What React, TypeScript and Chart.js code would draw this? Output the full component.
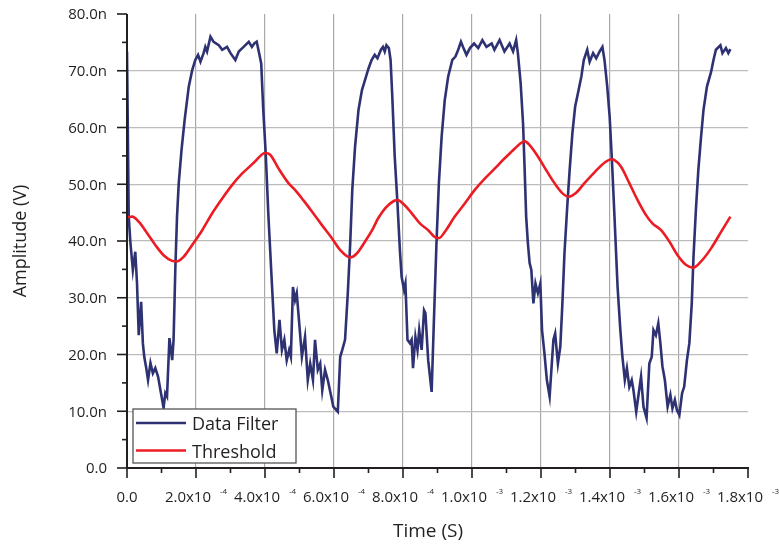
import { useEffect, useRef } from 'react';
import { Chart, registerables } from 'chart.js';

Chart.register(...registerables);

const FONT = "'Open Sans', 'DejaVu Sans', sans-serif";
const TEXT_COLOR = '#231f20';
const FILTER_COLOR = '#2e3272';
const THRESHOLD_COLOR = '#ec1c24';

// Filtered signal: time (µs) and amplitude (nV)
const filterTimeUs = [
  0, 5, 10, 17, 24, 29, 34, 41, 46, 50, 55, 61, 68, 75, 82, 90, 97, 106, 111, 116,
  123, 131, 135, 140, 145, 150, 158, 167, 179, 189, 198, 206, 213, 222, 227, 232, 242, 251, 266, 276,
  290, 300, 314, 324, 338, 353, 362, 369, 376, 383, 389, 395, 402, 410, 420, 427, 434, 442, 449, 456,
  463, 470, 475, 481, 487, 492, 500, 507, 516, 524, 531, 539, 545, 553, 560, 566, 574, 582, 592, 598,
  611, 618, 624, 632, 640, 647, 653, 661, 671, 681, 690, 700, 709, 718, 726, 736, 742, 747, 752, 759,
  764, 769, 776, 784, 791, 796, 803, 807, 813, 820, 825, 829, 836, 842, 847, 854, 861, 865, 873, 883,
  889, 897, 904, 912, 921, 931, 943, 952, 960, 968, 974, 984, 994, 1006, 1018, 1030, 1042, 1057, 1065, 1080,
  1094, 1109, 1119, 1128, 1133, 1141, 1148, 1152, 1157, 1162, 1167, 1172, 1178, 1184, 1191, 1198, 1203, 1210, 1217, 1225,
  1232, 1236, 1241, 1249, 1256, 1262, 1268, 1276, 1283, 1291, 1299, 1309, 1317, 1324, 1334, 1341, 1351, 1360, 1370, 1378,
  1384, 1392, 1399, 1406, 1413, 1422, 1430, 1436, 1443, 1449, 1456, 1463, 1468, 1476, 1482, 1490, 1497, 1506, 1514, 1521,
  1526, 1533, 1540, 1546, 1552, 1559, 1567, 1575, 1581, 1588, 1594, 1601, 1609, 1615, 1623, 1630, 1637, 1642, 1649, 1656,
  1664, 1671, 1681, 1693, 1700, 1707, 1720, 1726, 1736, 1743, 1749,
];
const filterNanoVolts = [
  73.4, 44.3, 39.6, 34.9, 38.1, 32.6, 23.4, 29.3, 22.0, 19.6, 17.9, 15.5, 18.5, 16.7, 17.6, 16.1, 13.7, 10.6, 13.2, 12.6,
  22.9, 19.0, 22.6, 34.9, 44.3, 50.2, 56.0, 61.3, 67.2, 70.1, 71.9, 72.8, 71.6, 73.1, 74.2, 73.4, 76.0, 75.1, 74.5, 73.7,
  74.2, 73.1, 71.9, 73.4, 74.2, 75.1, 74.2, 74.8, 75.1, 73.1, 71.3, 63.1, 55.5, 44.3, 32.5, 24.3, 20.2, 26.1, 20.8, 22.6,
  19.0, 20.8, 19.6, 31.9, 29.6, 30.8, 24.9, 19.6, 23.1, 15.5, 18.4, 15.5, 22.6, 17.3, 18.4, 13.7, 17.3, 15.5, 12.6, 10.8,
  9.9, 19.6, 20.8, 22.6, 30.8, 39.6, 49.0, 56.6, 63.1, 66.6, 68.4, 70.4, 71.9, 72.8, 72.2, 73.7, 74.2, 73.4, 74.5, 74.0,
  71.9, 65.4, 54.9, 46.6, 38.4, 33.7, 31.4, 32.5, 22.6, 22.0, 22.6, 17.6, 23.1, 20.8, 24.3, 20.8, 27.8, 27.3, 19.0, 13.4,
  24.9, 39.6, 50.2, 58.4, 64.8, 69.0, 71.9, 72.5, 73.7, 75.1, 74.2, 72.8, 74.0, 74.8, 74.0, 75.4, 74.2, 74.8, 73.7, 75.4,
  73.4, 74.8, 73.4, 75.4, 73.1, 67.8, 60.7, 53.7, 44.3, 39.6, 36.1, 34.9, 29.0, 32.5, 30.8, 32.5, 24.3, 20.2, 15.5, 12.6,
  19.0, 22.6, 23.7, 18.4, 21.4, 29.0, 37.8, 46.0, 52.5, 59.0, 63.7, 66.6, 69.0, 71.9, 73.7, 71.6, 73.1, 72.2, 73.4, 74.2,
  71.9, 67.2, 61.9, 53.7, 44.3, 31.9, 24.3, 19.6, 15.5, 17.6, 14.3, 15.5, 13.7, 9.9, 12.6, 16.1, 10.8, 8.8, 18.4, 19.6,
  24.3, 23.4, 25.5, 22.0, 17.9, 15.5, 10.8, 12.9, 10.5, 12.0, 10.2, 9.3, 13.2, 14.3, 19.0, 22.0, 29.0, 37.2, 45.5, 52.5,
  58.4, 63.1, 67.2, 69.8, 71.9, 73.7, 74.5, 73.1, 74.0, 73.1, 73.8,
];

// Threshold curve: time (µs) and amplitude (nV)
const thresholdTimeUs = [
  0, 15, 34, 58, 82, 106, 131, 145, 164, 189, 218, 247, 276, 305, 334, 357, 371, 400, 415, 439,
  468, 487, 511, 536, 565, 594, 618, 647, 666, 690, 713, 728, 757, 784, 805, 825, 849, 873, 892, 904,
  921, 950, 979, 1008, 1037, 1070, 1085, 1114, 1143, 1152, 1167, 1191, 1215, 1239, 1264, 1280, 1302, 1326, 1355, 1384,
  1404, 1412, 1432, 1456, 1480, 1504, 1523, 1548, 1572, 1596, 1620, 1641, 1664, 1693, 1722, 1749,
];
const thresholdNanoVolts = [
  44.2, 44.3, 43.4, 41.4, 39.3, 37.5, 36.5, 36.4, 37.2, 39.3, 41.9, 44.9, 47.5, 49.9, 51.9, 53.2, 54.0, 55.5, 55.2, 52.8,
  50.2, 49.0, 47.2, 45.2, 42.8, 40.5, 38.4, 37.1, 37.8, 39.9, 42.2, 44.0, 46.3, 47.2, 46.3, 44.9, 43.1, 41.9, 40.7, 40.5,
  41.6, 44.3, 46.6, 49.0, 51.0, 53.0, 54.0, 55.7, 57.3, 57.6, 56.9, 54.9, 52.5, 50.2, 48.3, 47.8, 48.5, 50.2, 52.1, 53.8,
  54.4, 54.3, 53.1, 50.2, 47.2, 44.6, 43.1, 41.9, 39.9, 37.5, 35.8, 35.3, 36.4, 38.7, 41.6, 44.3,
];

// Axis ticks
const xMajorTicks = [0, 0.0002, 0.0004, 0.0006, 0.0008, 0.001, 0.0012, 0.0014, 0.0016, 0.0018];
const xMinorTicks = [0.0001, 0.0003, 0.0005, 0.0007, 0.0009, 0.0011, 0.0013, 0.0015, 0.0017];
const xTickMantissas = ['0.0', '2.0x10', '4.0x10', '6.0x10', '8.0x10', '1.0x10', '1.2x10', '1.4x10', '1.6x10', '1.8x10'];
const xTickExponents = ['', '-4', '-4', '-4', '-4', '-3', '-3', '-3', '-3', '-3'];
const yMajorTicks = [0, 10, 20, 30, 40, 50, 60, 70, 80];
const yMinorTicks = [5, 15, 25, 35, 45, 55, 65, 75];
const yTickLabels = ['0.0', '10.0n', '20.0n', '30.0n', '40.0n', '50.0n', '60.0n', '70.0n', '80.0n'];

const X_MIN = 0;
const X_MAX = 0.0018;
const Y_MIN = 0;
const Y_MAX = 80;

const toPoints = (ts: number[], vs: number[]) => ts.map((t, i) => ({ x: t * 1e-6, y: vs[i] }));

const axisDecorations = {
  id: 'axisDecorations',
  afterDraw(chart: any) {
    const { ctx, chartArea: a } = chart;
    const xs = chart.scales.x;
    const ys = chart.scales.y;
    const seg = (x1: number, y1: number, x2: number, y2: number) => {
      ctx.beginPath();
      ctx.moveTo(x1, y1);
      ctx.lineTo(x2, y2);
      ctx.stroke();
    };
    ctx.save();
    ctx.strokeStyle = TEXT_COLOR;
    ctx.lineCap = 'butt';

    // axis lines
    ctx.lineWidth = 2;
    ctx.beginPath();
    ctx.moveTo(a.left, ys.getPixelForValue(Y_MAX));
    ctx.lineTo(a.left, a.bottom);
    ctx.lineTo(xs.getPixelForValue(X_MAX) + 1, a.bottom);
    ctx.stroke();

    // tick marks
    ctx.lineWidth = 1.6;
    yMajorTicks.forEach((v) => { const py = ys.getPixelForValue(v); seg(a.left - 10, py, a.left, py); });
    yMinorTicks.forEach((v) => { const py = ys.getPixelForValue(v); seg(a.left - 5, py, a.left, py); });
    xMajorTicks.forEach((v) => { const px = xs.getPixelForValue(v); seg(px, a.bottom, px, a.bottom + 10); });
    xMinorTicks.forEach((v) => { const px = xs.getPixelForValue(v); seg(px, a.bottom, px, a.bottom + 5); });

    ctx.fillStyle = TEXT_COLOR;
    const mainFont = `15px ${FONT}`;
    const supFont = `8px ${FONT}`;

    // y tick labels
    ctx.font = mainFont;
    ctx.textAlign = 'right';
    ctx.textBaseline = 'middle';
    yMajorTicks.forEach((v, i) => {
      ctx.fillText(yTickLabels[i], a.left - 20, ys.getPixelForValue(v) + 1);
    });

    // x tick labels with superscript exponents
    ctx.textBaseline = 'alphabetic';
    ctx.textAlign = 'left';
    const gap = 9;
    xMajorTicks.forEach((v, i) => {
      const px = xs.getPixelForValue(v);
      const m = xTickMantissas[i];
      const e = xTickExponents[i];
      ctx.font = mainFont;
      const wm = ctx.measureText(m).width;
      ctx.font = supFont;
      const we = e ? ctx.measureText(e).width : 0;
      const total = wm + (e ? gap + we : 0);
      const x0 = px - total / 2;
      ctx.font = mainFont;
      ctx.fillText(m, x0, a.bottom + 34);
      if (e) {
        ctx.font = supFont;
        ctx.fillText(e, x0 + wm + gap, a.bottom + 26);
      }
    });

    // x axis title
    ctx.font = `19px ${FONT}`;
    ctx.textAlign = 'center';
    ctx.fillText('Time (S)', 428, a.bottom + 69);

    // legend
    const lx = a.left + 6;
    const ly = a.bottom - 59;
    const lw = 163;
    const lh = 54;
    ctx.fillStyle = '#ffffff';
    ctx.fillRect(lx, ly, lw, lh);
    ctx.strokeStyle = '#555555';
    ctx.lineWidth = 1.3;
    ctx.strokeRect(lx, ly, lw, lh);
    ctx.font = `18px ${FONT}`;
    ctx.textAlign = 'left';
    const entries = [chart.data.datasets[1], chart.data.datasets[0]];
    entries.forEach((ds: any, i: number) => {
      const rowY = ly + 14 + i * 27.5;
      ctx.strokeStyle = ds.borderColor;
      ctx.lineWidth = 2.5;
      seg(lx + 3, rowY, lx + 53, rowY);
      ctx.fillStyle = TEXT_COLOR;
      ctx.fillText(ds.label, lx + 59, rowY + 7);
    });
    ctx.restore();
  },
};

export default function App() {
  const canvasRef = useRef<HTMLCanvasElement | null>(null);

  useEffect(() => {
    const canvas = canvasRef.current;
    if (!canvas) return;
    const chart = new Chart(canvas, {
      type: 'line',
      data: {
        datasets: [
          {
            label: 'Threshold',
            data: toPoints(thresholdTimeUs, thresholdNanoVolts),
            borderColor: THRESHOLD_COLOR,
            borderWidth: 2.6,
            pointRadius: 0,
            cubicInterpolationMode: 'monotone',
            fill: false,
          },
          {
            label: 'Data Filter',
            data: toPoints(filterTimeUs, filterNanoVolts),
            borderColor: FILTER_COLOR,
            borderWidth: 2.6,
            pointRadius: 0,
            tension: 0,
            fill: false,
          },
        ],
      },
      options: {
        animation: false,
        responsive: false,
        devicePixelRatio: 1,
        layout: { padding: { top: 14, right: 31, bottom: 0, left: 0 } },
        plugins: { legend: { display: false }, tooltip: { enabled: false } },
        scales: {
          x: {
            type: 'linear',
            min: X_MIN,
            max: X_MAX,
            afterBuildTicks: (s: any) => {
              s.ticks = xMajorTicks.map((value) => ({ value }));
            },
            afterFit: (s: any) => {
              s.height = 76;
            },
            ticks: { display: false },
            border: { display: false },
            grid: {
              drawTicks: false,
              lineWidth: 1.2,
              color: (c: any) =>
                c.tick && c.tick.value > X_MIN && c.tick.value < X_MAX - 1e-9 ? '#a9a9a9' : 'rgba(0,0,0,0)',
            },
          },
          y: {
            type: 'linear',
            min: Y_MIN,
            max: Y_MAX,
            afterBuildTicks: (s: any) => {
              s.ticks = yMajorTicks.map((value) => ({ value }));
            },
            afterFit: (s: any) => {
              s.width = 127;
            },
            ticks: { display: false },
            border: { display: false },
            grid: {
              drawTicks: false,
              lineWidth: 1.2,
              color: (c: any) =>
                c.tick && c.tick.value > Y_MIN && c.tick.value < Y_MAX ? '#bcbcbc' : 'rgba(0,0,0,0)',
            },
            title: {
              display: true,
              text: 'Amplitude (V)',
              color: TEXT_COLOR,
              font: { family: FONT, size: 18 },
              padding: { top: 10, bottom: 0 },
            },
          },
        },
      },
      plugins: [axisDecorations],
    });
    return () => chart.destroy();
  }, []);

  return (
    <div style={{ position: 'fixed', left: 0, top: 0, width: 779, height: 544, background: '#ffffff' }}>
      <canvas ref={canvasRef} width={779} height={544} style={{ display: 'block' }} />
    </div>
  );
}
